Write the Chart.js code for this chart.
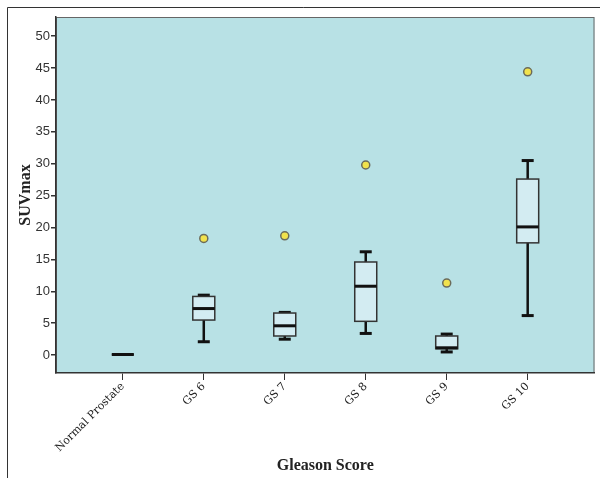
<!DOCTYPE html>
<html>
<head>
<meta charset="utf-8">
<script src="https://cdn.jsdelivr.net/npm/chart.js@4.4.0/dist/chart.umd.min.js"></script>
<style>
  html, body { margin: 0; padding: 0; background: #ffffff; }
  #wrap { width: 600px; height: 478px; position: relative; }
</style>
</head>
<body>
<div id="wrap"><canvas id="c" width="600" height="478"></canvas></div>
<script>
const categories = ['Normal Prostate', 'GS 6', 'GS 7', 'GS 8', 'GS 9', 'GS 10'];
const whiskerLow  = [0.1, 2.1, 2.5, 3.4, 0.5, 6.2];
const q1          = [0.1, 5.5, 3.0, 5.3, 1.0, 17.6];
const median      = [0.1, 7.3, 4.6, 10.8, 1.15, 20.1];
const q3          = [0.1, 9.2, 6.6, 14.6, 3.0, 27.6];
const whiskerHigh = [0.1, 9.4, 6.7, 16.2, 3.3, 30.5];
const outliers    = [null, 18.3, 18.7, 29.8, 11.3, 44.4];
const yTickValues = [0, 5, 10, 15, 20, 25, 30, 35, 40, 45, 50];

const outlierPoints = [];
outliers.forEach((v, i) => { if (v !== null) outlierPoints.push({ x: i, y: v }); });

const boxPlugin = {
  id: 'boxes',
  beforeDraw(chart) {
    const { ctx, chartArea: a } = chart;
    ctx.save();
    ctx.fillStyle = '#b8e1e5';
    ctx.fillRect(a.left, a.top, a.right - a.left, a.bottom - a.top);
    ctx.strokeStyle = '#666';
    ctx.lineWidth = 1;
    ctx.strokeRect(a.left + 0.5, a.top + 0.5, a.right - a.left - 1, a.bottom - a.top - 1);
    // outer frame
    ctx.strokeStyle = '#333';
    ctx.beginPath();
    ctx.moveTo(7.5, 478); ctx.lineTo(7.5, 7.5); ctx.lineTo(600, 7.5);
    ctx.stroke();
    ctx.restore();
  },
  beforeDatasetsDraw(chart) {
    const { ctx } = chart;
    const xs = chart.scales.x, ys = chart.scales.y;
    ctx.save();
    categories.forEach((c, i) => {
      const cx = xs.getPixelForValue(i);
      const half = 11, cap = 6;
      const yWL = ys.getPixelForValue(whiskerLow[i]);
      const yQ1 = ys.getPixelForValue(q1[i]);
      const yMd = ys.getPixelForValue(median[i]);
      const yQ3 = ys.getPixelForValue(q3[i]);
      const yWH = ys.getPixelForValue(whiskerHigh[i]);
      // whiskers
      ctx.strokeStyle = '#111';
      ctx.lineWidth = 2.5;
      ctx.beginPath();
      ctx.moveTo(cx, yQ3); ctx.lineTo(cx, yWH);
      ctx.moveTo(cx, yQ1); ctx.lineTo(cx, yWL);
      ctx.stroke();
      ctx.lineWidth = 3;
      if (whiskerHigh[i] !== q3[i]) {
        ctx.beginPath(); ctx.moveTo(cx - cap, yWH); ctx.lineTo(cx + cap, yWH); ctx.stroke();
      }
      if (whiskerLow[i] !== q1[i]) {
        ctx.beginPath(); ctx.moveTo(cx - cap, yWL); ctx.lineTo(cx + cap, yWL); ctx.stroke();
      }
      // box
      ctx.fillStyle = '#d3ecf2';
      ctx.fillRect(cx - half, yQ3, 2 * half, yQ1 - yQ3);
      ctx.strokeStyle = '#333';
      ctx.lineWidth = 1.5;
      ctx.strokeRect(cx - half, yQ3, 2 * half, yQ1 - yQ3);
      // median
      ctx.strokeStyle = '#111';
      ctx.lineWidth = 3;
      ctx.beginPath(); ctx.moveTo(cx - half, yMd); ctx.lineTo(cx + half, yMd); ctx.stroke();
    });
    ctx.restore();
  }
};

new Chart(document.getElementById('c'), {
  type: 'scatter',
  data: {
    datasets: [{
      data: outlierPoints,
      backgroundColor: '#f1e24c',
      borderColor: '#6b6b5a',
      borderWidth: 1.5,
      pointRadius: 4,
      pointHoverRadius: 4
    }]
  },
  options: {
    responsive: false,
    animation: false,
    layout: { padding: { top: 17, right: 4, left: 0, bottom: 0 } },
    plugins: { legend: { display: false }, tooltip: { enabled: false } },
    scales: {
      x: {
        type: 'linear',
        min: -0.825,
        max: 5.825,
        afterBuildTicks(scale) { scale.ticks = categories.map((c, i) => ({ value: i })); },
        afterFit(scale) { scale.height = 105; },
        grid: { drawOnChartArea: false, drawTicks: true, tickLength: 7, color: '#333', lineWidth: 1 },
        border: { display: true, color: '#333', width: 1.5 },
        ticks: {
          autoSkip: false,
          minRotation: 45,
          maxRotation: 45,
          padding: 0,
          color: '#222',
          font: { family: 'DejaVu Serif', size: 11 },
          callback: (v) => categories[v]
        },
        title: {
          display: true,
          text: 'Gleason Score',
          color: '#222',
          font: { family: 'Liberation Serif', size: 16, weight: 'bold' },
          padding: { top: 0, bottom: 3 }
        }
      },
      y: {
        min: -2.8,
        max: 53,
        afterBuildTicks(scale) { scale.ticks = yTickValues.map(v => ({ value: v })); },
        afterFit(scale) { scale.width = 56; },
        grid: { drawOnChartArea: false, drawTicks: true, tickLength: 5, color: '#333', lineWidth: 1.5 },
        border: { display: true, color: '#333', width: 1.5 },
        ticks: {
          padding: 1,
          color: '#333',
          font: { family: 'Liberation Sans', size: 13 },
          callback: (v) => String(v)
        },
        title: {
          display: true,
          text: 'SUVmax',
          color: '#222',
          font: { family: 'Liberation Serif', size: 16, weight: 'bold' },
          padding: { top: 16, bottom: 0 }
        }
      }
    }
  },
  plugins: [boxPlugin]
});
</script>
</body>
</html>
